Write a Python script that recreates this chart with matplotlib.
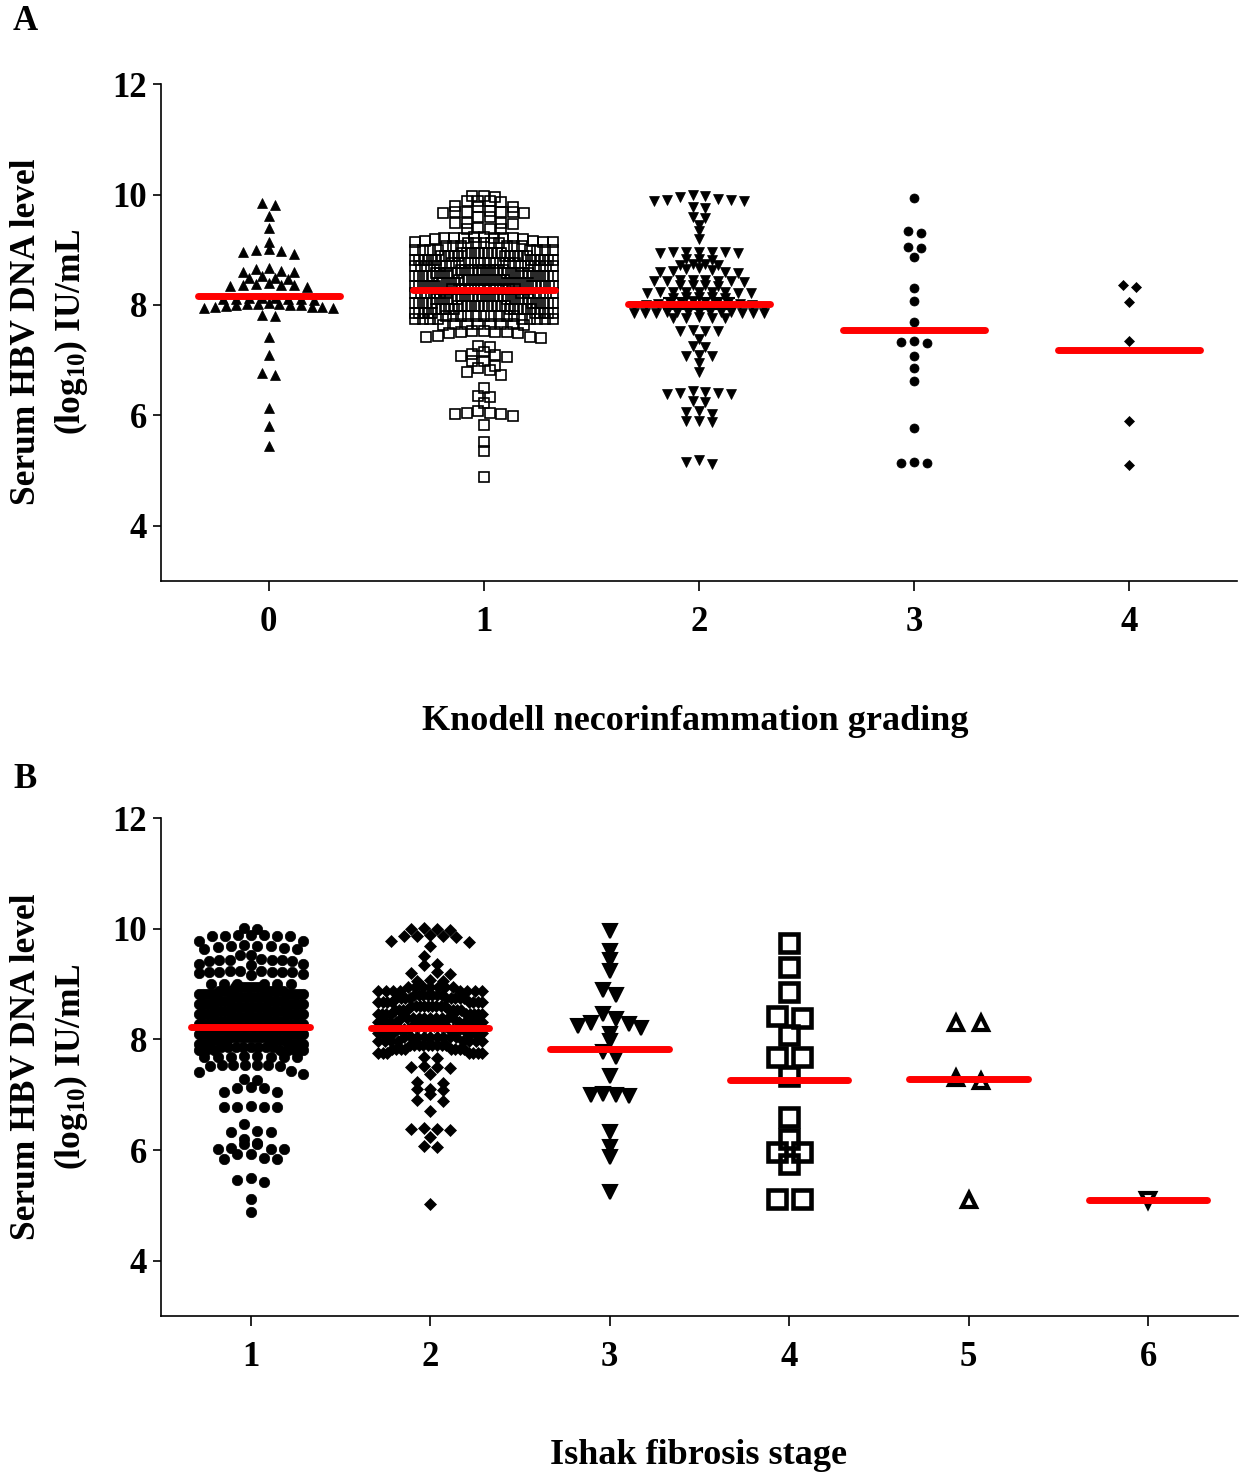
import numpy as np
import matplotlib
matplotlib.use("Agg")
import matplotlib.pyplot as plt

plt.rcParams['font.family'] = ['Liberation Serif', 'DejaVu Serif']
plt.rcParams['font.weight'] = 'bold'
plt.rcParams['mathtext.fontset'] = 'custom'
plt.rcParams['mathtext.rm'] = 'Liberation Serif:bold'
plt.rcParams['mathtext.it'] = 'Liberation Serif:bold'
plt.rcParams['mathtext.default'] = 'rm'

# ---------------- data: panel A (Knodell grade) ----------------
grades = [0, 1, 2, 3, 4]

A0 = [9.84, 9.81, 9.61, 9.40, 9.14,
      9.01, 9.00, 8.98, 8.95, 8.92,
      8.66, 8.65, 8.62, 8.60, 8.59,
      8.52, 8.49, 8.48, 8.47,
      8.39, 8.38, 8.37, 8.37, 8.36, 8.34, 8.33,
      8.13, 8.12, 8.12, 8.11, 8.11, 8.10, 8.10, 8.09,
      8.03, 8.02, 8.02, 8.01, 8.00, 8.00, 7.99, 7.98, 7.97, 7.96, 7.96, 7.95, 7.94,
      7.82, 7.80,
      7.42, 7.10, 6.76, 6.73, 6.13, 5.80, 5.45]

A1_upper = [9.98, 9.97, 9.95,
            9.89, 9.88, 9.88, 9.87,
            9.79, 9.78, 9.77,
            9.70, 9.69, 9.69, 9.68, 9.68, 9.67, 9.67,
            9.60, 9.59,
            9.49, 9.48, 9.48, 9.47,
            9.39, 9.38, 9.38, 9.37,
            9.23, 9.23, 9.22, 9.22, 9.22, 9.21, 9.21, 9.21, 9.20, 9.20,
            9.15, 9.15, 9.14, 9.14, 9.14, 9.13, 9.13, 9.13, 9.12, 9.12]
A1_dense_vals = [9.06, 9.00, 8.94, 8.88, 8.82, 8.76, 8.70, 8.64, 8.58, 8.52, 8.46, 8.40,
                 8.34, 8.28, 8.22, 8.16, 8.10, 8.04, 7.98, 7.92, 7.86, 7.80, 7.74]
A1_dense_counts = [6, 8, 10, 11, 12, 11, 12, 11, 12, 11, 12, 11,
                   12, 11, 12, 11, 12, 11, 12, 11, 10, 10, 9]
A1_lower = [7.66, 7.66, 7.66, 7.65, 7.65, 7.65, 7.64, 7.64,
            7.52, 7.52, 7.51, 7.51, 7.51, 7.50, 7.50,
            7.43, 7.42, 7.42, 7.41,
            7.26, 7.24,
            7.14, 7.12, 7.10, 7.08, 7.06,
            6.99, 6.99,
            6.90, 6.86, 6.82, 6.78, 6.74,
            6.49,
            6.35, 6.33,
            6.22,
            6.07, 6.05, 6.04, 6.03, 6.02, 5.99,
            5.82, 5.51, 5.35, 4.88]

A2 = [10.00, 9.96, 9.92, 9.90, 9.88, 9.88, 9.90, 9.97,
      9.77, 9.75,
      9.60, 9.57,
      9.45, 9.34, 9.19,
      8.96, 8.95, 8.95, 8.95, 8.95, 8.94, 8.94,
      8.84, 8.83, 8.82,
      8.75, 8.74, 8.73, 8.72,
      8.66, 8.65, 8.64, 8.62, 8.60, 8.59, 8.58,
      8.46, 8.45, 8.45, 8.44, 8.44, 8.43, 8.43, 8.42,
      8.37, 8.36, 8.36, 8.35,
      8.24, 8.24, 8.23, 8.23, 8.23, 8.23, 8.22, 8.22, 8.22,
      8.15, 8.14, 8.14, 8.13, 8.13,
      8.07, 8.06, 8.05, 8.04, 8.04, 8.03, 8.02, 8.01, 8.00, 7.99, 7.98, 7.96,
      7.88, 7.88, 7.87, 7.87, 7.87, 7.87, 7.87, 7.86, 7.86, 7.86, 7.86, 7.85, 7.85,
      7.78, 7.77, 7.77, 7.76, 7.76,
      7.54, 7.53, 7.53, 7.52,
      7.39,
      7.26, 7.24,
      7.09, 7.08, 7.07,
      6.94, 6.79,
      6.45, 6.42, 6.41, 6.40, 6.39, 6.38,
      6.26, 6.24,
      6.08, 6.06, 6.02,
      5.90, 5.89, 5.88,
      5.20, 5.16, 5.12]

A3 = [9.94, 9.34, 9.31, 9.05, 9.03, 8.86, 8.31, 8.08, 7.69,
      7.35, 7.33, 7.31, 7.07, 6.86, 6.62, 5.77, 5.15, 5.14, 5.13]

A4 = [8.37, 8.33, 8.06, 7.34, 5.90, 5.10]

A_median = [8.17, 8.27, 8.02, 7.55, 7.19]
A2_err = [7.92, 8.02, 8.13]

# ---------------- data: panel B (Ishak stage) ----------------
stages = [1, 2, 3, 4, 5, 6]

B1_upper = [10.01, 10.00,
            9.89, 9.88, 9.88, 9.87, 9.87, 9.86, 9.86,
            9.78, 9.77,
            9.70, 9.69, 9.69, 9.68, 9.67, 9.65, 9.64, 9.63,
            9.53, 9.52,
            9.45, 9.44, 9.44, 9.43, 9.43, 9.42, 9.42,
            9.37, 9.36, 9.35,
            9.24, 9.23, 9.23, 9.22, 9.22, 9.22, 9.21, 9.21, 9.20, 9.19, 9.17]
B1_dense_vals = [9.00, 8.94, 8.88, 8.82, 8.76, 8.70, 8.64, 8.58, 8.52, 8.46, 8.40,
                 8.34, 8.28, 8.22, 8.16, 8.10, 8.04, 7.98, 7.92, 7.86, 7.80]
B1_dense_counts = [6, 8, 9, 10, 11, 10, 11, 10, 11, 10, 11,
                   10, 11, 10, 11, 10, 11, 10, 9, 8, 7]
B1_lower = [7.70, 7.70, 7.69, 7.69, 7.69, 7.68, 7.68, 7.68,
            7.54, 7.54, 7.53, 7.53, 7.53, 7.52, 7.52,
            7.43, 7.41, 7.38,
            7.29, 7.26,
            7.13, 7.12, 7.12,
            7.05, 7.04,
            6.79, 6.78, 6.78, 6.78, 6.77,
            6.47,
            6.34, 6.33, 6.32,
            6.20,
            6.12, 6.11, 6.10,
            6.03, 6.02, 6.02, 6.01,
            5.93, 5.92,
            5.85, 5.84, 5.83,
            5.50, 5.46, 5.42,
            5.12, 4.88]

B2_upper = [10.01, 10.00, 9.99, 9.98,
            9.88, 9.87, 9.86, 9.86, 9.85,
            9.77, 9.76,
            9.68, 9.50,
            9.36, 9.34,
            9.21, 9.20, 9.19,
            9.07, 9.06, 9.05]
B2_dense_vals = [8.95, 8.88, 8.81, 8.74, 8.67, 8.60, 8.53, 8.46, 8.39, 8.32, 8.25,
                 8.18, 8.11, 8.04, 7.97, 7.90, 7.83, 7.76]
B2_dense_counts = [7, 8, 7, 9, 8, 9, 8, 9, 10, 9, 10,
                   9, 10, 9, 8, 9, 8, 7]
B2_lower = [7.68, 7.67,
            7.51, 7.50, 7.50, 7.49,
            7.37,
            7.23, 7.21,
            7.11, 7.10, 7.09,
            7.01,
            6.90, 6.88,
            6.70,
            6.39, 6.38, 6.38, 6.37,
            6.23,
            6.07, 6.05,
            5.03]

B3 = [9.95, 9.59, 9.44, 9.23, 8.90, 8.81, 8.45, 8.36, 8.30, 8.27, 8.25, 8.21,
      8.09, 7.97, 7.77, 7.68, 7.33, 7.02, 7.00, 6.99, 6.98, 6.32, 6.05, 5.87, 5.24]

B4 = [9.75, 9.30, 8.85, 8.43, 8.38, 8.07, 7.69, 7.69, 7.34, 6.60, 6.20,
      5.96, 5.96, 5.75, 5.12, 5.12]

B5 = [8.30, 8.30, 7.31, 7.24, 5.10]

B6 = [5.10]

B_median = [8.23, 8.20, 7.82, 7.26, 7.28, 5.10]


def center_out(n):
    # slot order 0, -1, +1, -2, +2 ... (or -0.5, +0.5, ... for even n)
    i = np.arange(n)
    if n % 2:
        return ((i + 1) // 2) * np.where(i % 2 == 1, -1.0, 1.0)
    return (i // 2 + 0.5) * np.where(i % 2 == 0, -1.0, 1.0)


def swarm(vals, step, half, gap=None, binh=None, base=0.0):
    v = np.sort(np.asarray(vals, float))[::-1]
    if binh is not None:
        keys = np.floor((v - base) / binh)
    else:
        keys = np.concatenate([[0], np.cumsum(-np.diff(v) > gap)])
    xs = np.zeros(len(v))
    for k in np.unique(keys):
        idx = np.where(keys == k)[0]
        n = len(idx)
        s = step if n < 2 else min(step, 2 * half / (n - 1))
        xs[idx] = center_out(n) * s
    return v, xs


def draw_groups(ax, positions, groups, styles, medians):
    for pos, vals, st in zip(positions, groups, styles):
        y, dx = swarm(vals, st['step'], st['half'], st.get('gap'), st.get('binh'), st.get('base', 0.0))
        ax.plot(pos + dx, y, linestyle='none', marker=st['marker'], ms=st['ms'],
                mfc=st['mfc'], mec='black', mew=st['mew'], zorder=3)
    ax.hlines(medians, np.array(positions) - 0.33, np.array(positions) + 0.33,
              colors='#ff0000', linewidth=5, capstyle='round', zorder=6)


def style_axes(ax, xticks):
    ax.spines['top'].set_visible(False)
    ax.spines['right'].set_visible(False)
    ax.spines['left'].set_linewidth(1.2)
    ax.spines['bottom'].set_linewidth(1.2)
    ax.set_ylim(3, 12)
    ax.set_yticks([4, 6, 8, 10, 12])
    ax.set_xticks(xticks)
    ax.tick_params(axis='y', length=6, width=1.2, pad=4, labelsize=25)
    ax.tick_params(axis='x', length=7, width=1.2, pad=11, labelsize=25)


fig = plt.figure(figsize=(12.45, 14.75), dpi=100)

# panel A
axA = fig.add_axes([0.1293, 0.6061, 0.8643, 0.3369])
A1 = A1_upper + list(np.repeat(A1_dense_vals, A1_dense_counts)) + A1_lower
A_groups = [A0, A1, A2, A3, A4]
A_styles = [
    dict(marker='^', ms=7, mfc='black', mew=0.5, step=0.06, half=0.30, gap=0.05),
    dict(marker='s', ms=6.8, mfc='none', mew=1.2, step=0.0535, half=0.32, binh=0.16, base=0.02),
    dict(marker='v', ms=7, mfc='black', mew=0.5, step=0.06, half=0.30, gap=0.045),
    dict(marker='o', ms=6.5, mfc='black', mew=0.5, step=0.06, half=0.30, gap=0.045),
    dict(marker='D', ms=5, mfc='black', mew=0.5, step=0.06, half=0.30, gap=0.045),
]
draw_groups(axA, grades, A_groups, A_styles, A_median)
axA.errorbar([2], [A2_err[1]], yerr=[[A2_err[1] - A2_err[0]], [A2_err[2] - A2_err[1]]],
             fmt='none', ecolor='black', elinewidth=1.2, capsize=26, capthick=1.5, zorder=5)
style_axes(axA, grades)
axA.set_xlim(-0.5, 4.5)

# panel B
axB = fig.add_axes([0.1293, 0.1078, 0.865, 0.3376])
B1 = B1_upper + list(np.repeat(B1_dense_vals, B1_dense_counts)) + B1_lower
B2 = B2_upper + list(np.repeat(B2_dense_vals, B2_dense_counts)) + B2_lower
B_groups = [B1, B2, B3, B4, B5, B6]
B_styles = [
    dict(marker='o', ms=7.5, mfc='black', mew=0.5, step=0.074, half=0.29, binh=0.18, base=0.0),
    dict(marker='D', ms=6.3, mfc='black', mew=0.5, step=0.072, half=0.29, binh=0.18, base=0.0),
    dict(marker='v', ms=10, mfc='black', mew=1.5, step=0.07, half=0.25, gap=0.1),
    dict(marker='s', ms=12.5, mfc='none', mew=3.3, step=0.14, half=0.3, gap=0.1),
    dict(marker='^', ms=9.5, mfc='none', mew=3, step=0.14, half=0.3, gap=0.1),
    dict(marker='v', ms=9.5, mfc='none', mew=3, step=0.14, half=0.3, gap=0.1),
]
draw_groups(axB, stages, B_groups, B_styles, B_median)
style_axes(axB, stages)
axB.set_xlim(0.5, 6.5)

# labels
ylab = "Serum HBV DNA level\n(log$_{10}$) IU/mL"
fig.text(50 / 1245, 1 - 332 / 1475, ylab, rotation=90, ha='center', va='center',
         multialignment='center', fontsize=25.5, linespacing=1.32)
fig.text(50 / 1245, 1 - 1067 / 1475, ylab, rotation=90, ha='center', va='center',
         multialignment='center', fontsize=25.5, linespacing=1.32)
fig.text(695 / 1245, 1 - 721 / 1475, "Knodell necorinfammation grading",
         ha='center', va='center', fontsize=26)
fig.text(698 / 1245, 1 - 1456 / 1475, "Ishak fibrosis stage",
         ha='center', va='center', fontsize=26)
fig.text(25 / 1245, 1 - 22 / 1475, "A", ha='center', va='center', fontsize=25)
fig.text(25 / 1245, 1 - 780 / 1475, "B", ha='center', va='center', fontsize=25)

fig.savefig("out.png", dpi=100)
